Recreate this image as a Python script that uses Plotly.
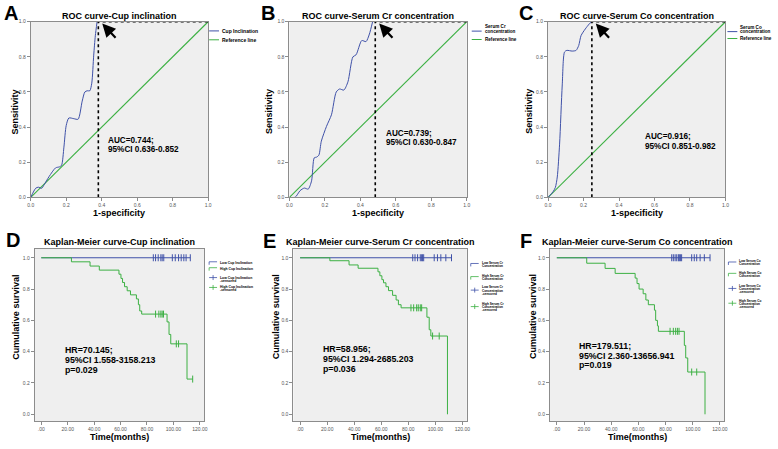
import plotly.graph_objects as go
from plotly.subplots import make_subplots

W, H = 778, 449
FONT = "Liberation Sans, Arial, sans-serif"
BLUE = "#3f51a8"
GREEN = "#3cb043"
AXIS = "#8c8c8c"

cup_fpr = [0.0, 0.028, 0.043, 0.062, 0.075, 0.103, 0.140, 0.163, 0.174, 0.187, 0.200,
           0.215, 0.243, 0.267, 0.290, 0.305, 0.318, 0.333, 0.344, 0.355, 0.364, 0.374]
cup_tpr = [0.0, 0.052, 0.058, 0.052, 0.071, 0.118, 0.168, 0.174, 0.183, 0.286, 0.410,
           0.452, 0.448, 0.445, 0.548, 0.600, 0.607, 0.607, 0.650, 0.810, 0.920, 1.0]
cr_fpr = [0.0, 0.032, 0.060, 0.084, 0.106, 0.125, 0.140, 0.153, 0.166, 0.180, 0.209,
          0.237, 0.264, 0.283, 0.307, 0.330, 0.358, 0.376, 0.408, 0.432, 0.451, 0.469]
cr_tpr = [0.0, 0.0, 0.038, 0.053, 0.047, 0.094, 0.225, 0.229, 0.240, 0.320, 0.404,
          0.470, 0.600, 0.617, 0.611, 0.658, 0.800, 0.812, 0.893, 0.887, 0.930, 1.0]
co_fpr = [0.0, 0.028, 0.041, 0.052, 0.065, 0.080, 0.093, 0.106, 0.136, 0.158, 0.173,
          0.186, 0.210, 0.232, 0.245]
co_tpr = [0.0, 0.032, 0.056, 0.116, 0.303, 0.640, 0.828, 0.837, 0.833, 0.837, 0.865,
          0.921, 0.959, 0.987, 1.0]
ref_line = [0.0, 1.0]
roc_cutoff = [0.381, 0.484, 0.247]
roc_titles = ["ROC curve-Cup inclination", "ROC curve-Serum Cr concentration",
              "ROC curve-Serum Co concentration"]
roc_legend = [["Cup Inclination"], ["Serum Cr", "concentration"], ["Serum Co", "concentration"]]
roc_auc = [["AUC=0.744;", "95%CI 0.636-0.852"],
           ["AUC=0.739;", "95%CI 0.630-0.847"],
           ["AUC=0.916;", "95%CI 0.851-0.982"]]
roc_ticks = [0, 0.2, 0.4, 0.6, 0.8, 1.0]
roc_ticklabels = ["0.0", "0.2", "0.4", "0.6", "0.8", "1.0"]

# Kaplan-Meier curves (months / cumulative survival), panels D-F
cup_high_t = [0, 22.8, 36.9, 43.9, 58.8, 60.3, 61.5, 63.0, 65.0, 67.5, 72.0, 73.5, 74.5,
              76.0, 95.2, 96.7, 98.0, 110.3, 114.6]
cup_high_s = [1.0, 0.974, 0.947, 0.921, 0.895, 0.868, 0.842, 0.815, 0.789, 0.763, 0.737,
              0.70, 0.66, 0.64, 0.59, 0.51, 0.45, 0.225, 0.225]
cup_high_cens_t = [86.5, 89.0, 90.5, 91.5, 92.5, 102.2, 103.9, 114.6]
cup_high_cens_s = [0.64, 0.64, 0.64, 0.64, 0.64, 0.45, 0.45, 0.225]
cup_low_cens_t = [84.8, 86.5, 88.5, 90.5, 91.5, 92.7, 99.2, 101.4, 103.9, 105.9, 107.9,
                  109.6, 112.8]

cr_high_t = [0, 22.0, 36.2, 42.9, 57.6, 59.0, 60.5, 61.7, 63.5, 65.4, 68.4, 71.0, 72.7,
             74.7, 93.8, 95.5, 96.7, 109.0]
cr_high_s = [1.0, 0.981, 0.954, 0.933, 0.91, 0.885, 0.86, 0.84, 0.815, 0.79, 0.76, 0.73,
             0.70, 0.68, 0.62, 0.54, 0.50, 0.0]
cr_high_cens_t = [82.0, 84.0, 86.2, 87.4, 88.9, 89.9, 98.0, 102.9]
cr_high_cens_s = [0.68, 0.68, 0.68, 0.68, 0.68, 0.68, 0.50, 0.50]
cr_low_cens_t = [83.3, 85.0, 86.9, 88.9, 89.9, 90.6, 91.4, 99.2, 101.6, 104.1, 107.8, 112.0]

co_high_t = [0, 22.0, 35.5, 42.9, 57.6, 59.0, 60.5, 63.5, 65.5, 67.3, 71.8, 72.7, 74.0,
             74.7, 93.8, 94.8, 96.3, 109.0]
co_high_s = [1.0, 0.965, 0.932, 0.90, 0.87, 0.835, 0.80, 0.77, 0.73, 0.70, 0.665, 0.60,
             0.565, 0.53, 0.44, 0.36, 0.27, 0.0]
co_high_cens_t = [83.3, 85.7, 87.4, 88.7, 89.9, 99.2, 102.9]
co_high_cens_s = [0.53, 0.53, 0.53, 0.53, 0.53, 0.27, 0.27]
co_low_cens_t = [84.5, 85.7, 87.0, 88.2, 89.4, 90.1, 90.9, 91.8, 99.2, 101.1, 102.9,
                 105.4, 108.5, 112.7]

km_titles = ["Kaplan-Meier curve-Cup inclination", "Kaplan-Meier curve-Serum Cr concentration",
             "Kaplan-Meier curve-Serum Co concentration"]
km_hr = [["HR=70.145;", "95%CI 1.558-3158.213", "p=0.029"],
         ["HR=58.956;", "95%CI 1.294-2685.203", "p=0.036"],
         ["HR=179.511;", "95%CI 2.360-13656.941", "p=0.019"]]
km_legend = [
    [["Low Cup Inclination"], ["High Cup Inclination"],
     ["Low Cup Inclination", "-censored"], ["High Cup Inclination", "-censored"]],
    [["Low Serum Cr", "Concentration"], ["High Serum Cr", "Concentration"],
     ["Low Serum Cr", "Concentration", "-censored"], ["High Serum Cr", "Concentration", "-censored"]],
    [["Low Serum Co", "Concentration"], ["High Serum Co", "Concentration"],
     ["Low Serum Co", "Concentration", "-censored"], ["High Serum Co", "Concentration", "-censored"]],
]
time_ticks = [0, 20, 40, 60, 80, 100, 120]
time_ticklabels = [".00", "20.00", "40.00", "60.00", "80.00", "100.00", "120.00"]


def px(x, y):
    return x / W, 1 - y / H


def label(fig, x, y, s, size, bold=True, anchor="center", angle=0, color="black"):
    xp, yp = px(x, y)
    fig.add_annotation(x=xp, y=yp, xref="paper", yref="paper", showarrow=False,
                       text="<b>%s</b>" % s if bold else s, xanchor=anchor, yanchor="middle",
                       textangle=angle, font=dict(size=size, color=color, family=FONT),
                       borderpad=0)


def pline(fig, x0, y0, x1, y1, color, width=1):
    a, b = px(x0, y0)
    c, d = px(x1, y1)
    fig.add_shape(type="line", xref="paper", yref="paper", x0=a, y0=b, x1=c, y1=d,
                  line=dict(color=color, width=width))


fig = make_subplots(rows=2, cols=3)

top_y = [1 - 197 / H, 1 - 19 / H]
bot_y = [1 - 424 / H, 1 - 249 / H]
top_x = [(28, 207), (289, 468), (550, 729)]
bot_x = [(32, 203), (293, 468), (552, 728)]

roc_data = [(cup_fpr, cup_tpr), (cr_fpr, cr_tpr), (co_fpr, co_tpr)]
km_data = [
    (cup_high_t, cup_high_s, cup_high_cens_t, cup_high_cens_s, cup_low_cens_t),
    (cr_high_t, cr_high_s, cr_high_cens_t, cr_high_cens_s, cr_low_cens_t),
    (co_high_t, co_high_s, co_high_cens_t, co_high_cens_s, co_low_cens_t),
]

axis_style = dict(showline=True, mirror=True, linecolor=AXIS, linewidth=1, ticks="outside",
                  ticklen=3, tickcolor=AXIS, tickfont=dict(size=5, color="#555", family=FONT),
                  showgrid=False, zeroline=False)

for i in range(3):
    # ---------- ROC row ----------
    fpr, tpr = roc_data[i]
    fig.add_trace(go.Scatter(x=ref_line, y=ref_line, mode="lines",
                             line=dict(color=GREEN, width=1.1)), row=1, col=i + 1)
    fig.add_trace(go.Scatter(x=fpr, y=tpr, mode="lines",
                             line=dict(color=BLUE, width=1, shape="spline", smoothing=0.7)),
                  row=1, col=i + 1)
    cut = roc_cutoff[i]
    fig.add_trace(go.Scatter(x=[cut, cut, 1.0], y=[0.0, 1.0, 1.0], mode="lines",
                             line=dict(color="black", width=1.6, dash="dot")),
                  row=1, col=i + 1)
    fig.update_xaxes(domain=[top_x[i][0] / W, top_x[i][1] / W], range=[0, 1],
                     tickvals=roc_ticks, ticktext=roc_ticklabels, row=1, col=i + 1, **axis_style)
    fig.update_yaxes(domain=top_y, range=[0, 1], tickvals=roc_ticks, ticktext=roc_ticklabels,
                     row=1, col=i + 1, **axis_style)
    n = i + 1
    xr = "x" if n == 1 else "x%d" % n
    yr = "y" if n == 1 else "y%d" % n
    fig.add_annotation(x=cut + 0.022, y=0.99, ax=cut + 0.105, ay=0.9, xref=xr, yref=yr,
                       axref=xr, ayref=yr, text="", showarrow=True, arrowhead=2,
                       arrowsize=1.2, arrowwidth=2.2, arrowcolor="black")

    # ---------- KM row ----------
    ht, hs, hct, hcs, lct = km_data[i]
    fig.add_trace(go.Scatter(x=[0, lct[-1]], y=[1.0, 1.0], mode="lines",
                             line=dict(color=BLUE, width=1)), row=2, col=i + 1)
    fig.add_trace(go.Scatter(x=lct, y=[1.0] * len(lct), mode="markers",
                             marker=dict(symbol="line-ns-open", size=5, color=BLUE,
                                         line=dict(color=BLUE, width=1))), row=2, col=i + 1)
    fig.add_trace(go.Scatter(x=ht, y=hs, mode="lines",
                             line=dict(color=GREEN, width=1, shape="hv")), row=2, col=i + 1)
    fig.add_trace(go.Scatter(x=hct, y=hcs, mode="markers",
                             marker=dict(symbol="line-ns-open", size=5, color=GREEN,
                                         line=dict(color=GREEN, width=1))), row=2, col=i + 1)
    fig.update_xaxes(domain=[bot_x[i][0] / W, bot_x[i][1] / W], range=[-5, 123.3],
                     tickvals=time_ticks, ticktext=time_ticklabels, row=2, col=i + 1, **axis_style)
    fig.update_yaxes(domain=bot_y, range=[-0.045, 1.058], tickvals=roc_ticks,
                     ticktext=roc_ticklabels, row=2, col=i + 1, **axis_style)

# panel letters
for s, x, y in [("A", 0, 10), ("B", 259, 10), ("C", 520, 10),
                ("D", 2, 240), ("E", 261, 241), ("F", 521, 241)]:
    label(fig, x, y, s, 20, anchor="left")

# titles and axis titles
for i in range(3):
    cx = (top_x[i][0] + top_x[i][1]) / 2
    label(fig, cx, 13, roc_titles[i], 9)
    label(fig, cx, 213, "1-specificity", 9)
    kx = (bot_x[i][0] + bot_x[i][1]) / 2
    label(fig, kx, 242, km_titles[i], 9)
    label(fig, kx, 440, "Time(months)", 9)
label(fig, 12, 110, "Sensitivity", 9, angle=-90)
label(fig, 268, 110, "Sensitivity", 9, angle=-90)
label(fig, 530, 110, "Sensitivity", 9, angle=-90)
label(fig, 13, 318, "Cumulative survival", 9, angle=-90)
label(fig, 275, 318, "Cumulative survival", 9, angle=-90)
label(fig, 535, 318, "Cumulative survival", 9, angle=-90)

# AUC / HR text blocks
for (x, y0), lines in zip([(105, 139), (385, 132.5), (647, 135.7)], roc_auc):
    for k, s in enumerate(lines):
        label(fig, x, y0 + 9.3 * k, s, 8.2, anchor="left")
for (x, y0), lines in zip([(62, 351.7), (322, 350.7), (580, 347.3)], km_hr):
    for k, s in enumerate(lines):
        label(fig, x, y0 + 10 * k, s, 8.8, anchor="left")

# ROC legends
roc_leg_pos = [(208, 28.3, 37.3), (473, 28.5, 37.0), (731, 29.0, 36.0)]
for (x, yb, yg), lines in zip(roc_leg_pos, roc_legend):
    pline(fig, x, yb, x + 10, yb, BLUE)
    pline(fig, x, yg, x + 10, yg, GREEN)
    if len(lines) == 1:
        label(fig, x + 12, yb, lines[0], 5, anchor="left")
    else:
        label(fig, x + 12, yb - 4.3, lines[0], 4.6, anchor="left")
        label(fig, x + 12, yb, lines[1], 4.6, anchor="left")
    label(fig, x + 12, yg, "Reference line", 4.6 if len(lines) > 1 else 5, anchor="left")

# KM legends: (symbol x, [(symbol y, first text line y)], line step, font size)
km_leg_pos = [
    (208, [(263.3, 263.3), (269.3, 269.3), (278.3, 278.3), (288.3, 288.3)], 3.0, 3.4),
    (472, [(265.0, 263.3), (278.3, 276.7), (291.0, 288.3), (307.7, 305.0)], 3.2, 3.1),
    (732, [(263.5, 261.7), (275.0, 273.3), (289.3, 286.7), (304.3, 301.7)], 3.2, 3.1),
]
for (x, items, step, fs), legs in zip(km_leg_pos, km_legend):
    for j, ((sy, ty), lines) in enumerate(zip(items, legs)):
        col = BLUE if j % 2 == 0 else GREEN
        if j < 2:
            a, b = px(x, sy + 2)
            c, d = px(x, sy - 1)
            e, f = px(x + 8, sy - 1)
            fig.add_shape(type="path", xref="paper", yref="paper",
                          path="M %f %f L %f %f L %f %f" % (a, b, c, d, e, f),
                          line=dict(color=col, width=0.8))
        else:
            pline(fig, x, sy, x + 8, sy, col, 0.8)
            pline(fig, x + 4, sy - 2.5, x + 4, sy + 2.5, col, 0.8)
        for k, s in enumerate(lines):
            label(fig, x + 10, ty + step * k, s, fs, anchor="left")

fig.update_layout(width=W, height=H, margin=dict(l=0, r=0, t=0, b=0),
                  paper_bgcolor="white", plot_bgcolor="#efefef", showlegend=False,
                  font=dict(family=FONT))

# the page body has an 8px default margin; drop it so the figure fills the window
fig.write_html("out.html", config={"displayModeBar": False},
               post_script="document.body.style.margin='0';")
